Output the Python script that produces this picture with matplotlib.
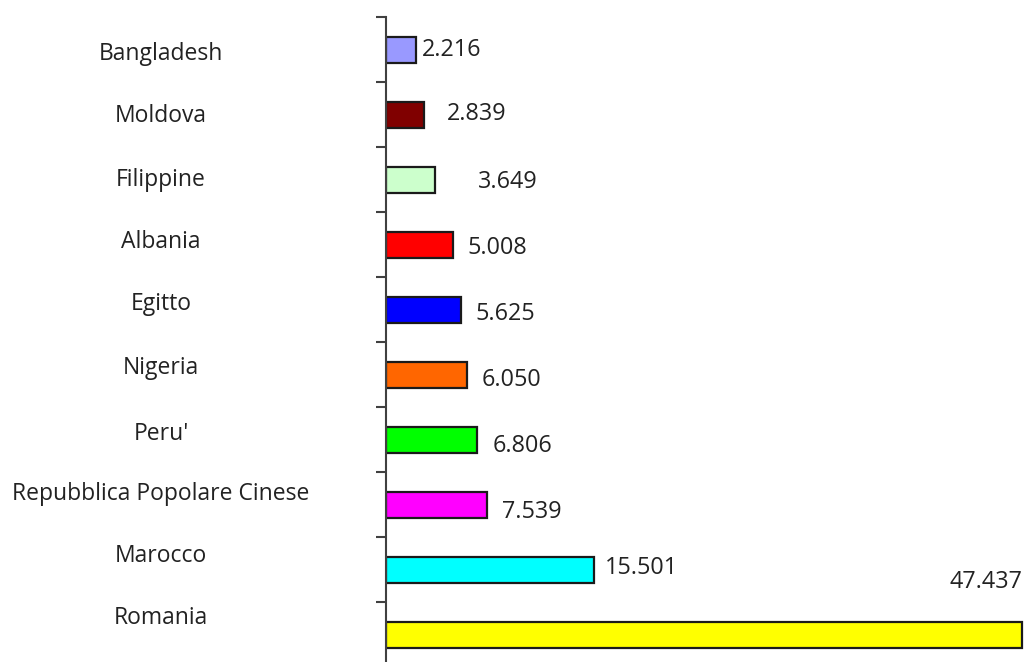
import matplotlib.pyplot as plt

countries = ["Bangladesh", "Moldova", "Filippine", "Albania", "Egitto",
             "Nigeria", "Peru'", "Repubblica Popolare Cinese", "Marocco", "Romania"]
values = [2.216, 2.839, 3.649, 5.008, 5.625, 6.050, 6.806, 7.539, 15.501, 47.437]
value_labels = ["2.216", "2.839", "3.649", "5.008", "5.625",
                "6.050", "6.806", "7.539", "15.501", "47.437"]
colors = ["#9999FF", "#800000", "#CCFFCC", "#FF0000", "#0000FF",
          "#FF6600", "#00FF00", "#FF00FF", "#00FFFF", "#FFFF00"]

# hand placed label offsets (pixels), like the original data labels
value_offsets = [(6, 0), (23, 0), (43, -2), (14, -3), (14, -5),
                 (14, -5), (15, -7), (15, -8), (11, 1), (0, 52)]
name_offsets = [-4, -2, -1, 3, 5, 6, 6, 10, 13, 16]

plt.rcParams['font.family'] = ['Open Sans', 'DejaVu Sans']
text_color = "#222222"

fig = plt.figure(figsize=(10.27, 6.62), dpi=100)
ax = fig.add_axes([386 / 1027, -5 / 662, 641 / 1027, 650 / 662])

y = list(range(len(countries)))
ax.barh(y, values, height=0.4, color=colors, edgecolor="#1a1a1a", linewidth=1.6)

ax.set_ylim(len(countries) - 0.5, -0.5)
ax.set_xlim(0, 641 / 13.41)

for i, (v, lab) in enumerate(zip(values, value_labels)):
    dx, dy = value_offsets[i]
    ha = "right" if dx == 0 else "left"
    ax.annotate(lab, xy=(v, i), xytext=(dx, dy), textcoords="offset pixels",
                ha=ha, va="center", fontsize=16.8, color=text_color)

for i, name in enumerate(countries):
    ax.annotate(name, xy=(0, i), xytext=(-225, name_offsets[i]),
                textcoords="offset pixels", ha="center", va="center",
                fontsize=16.5, color=text_color, annotation_clip=False)

for s in ["top", "right", "bottom"]:
    ax.spines[s].set_visible(False)
ax.spines["left"].set_color("#404040")
ax.spines["left"].set_linewidth(1.5)
ax.set_xticks([])
ax.set_yticks([i - 0.5 for i in range(len(countries) + 1)])
ax.set_yticklabels([])
ax.tick_params(axis="y", length=7, width=1.5, color="#404040")

fig.savefig("out.png", dpi=100)
